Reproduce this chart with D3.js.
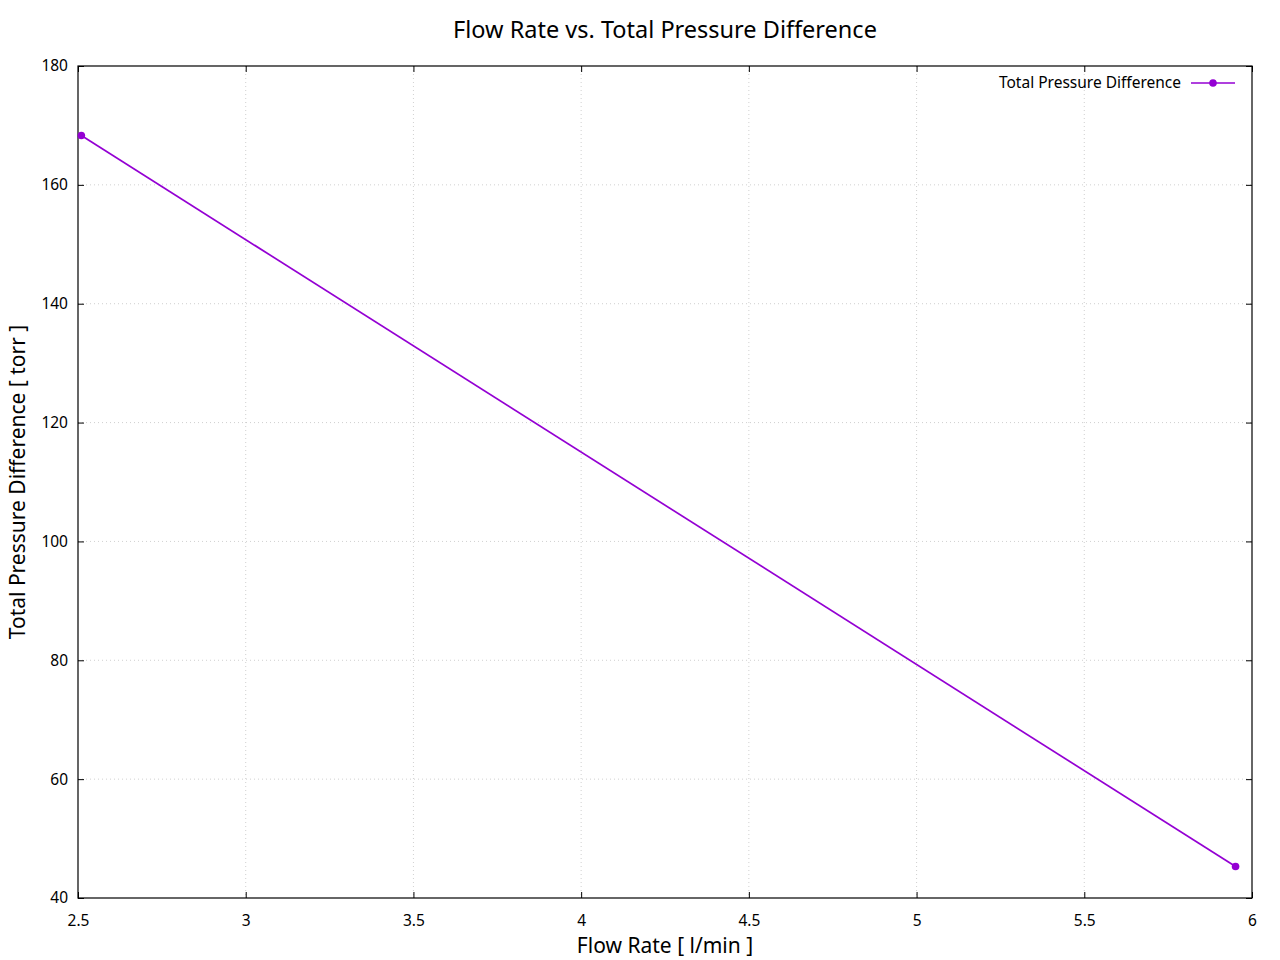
<!DOCTYPE html>
<html><head><meta charset="utf-8">
<script src="https://cdn.jsdelivr.net/npm/d3@7"></script>
<style>body{margin:0;background:#fff}svg{display:block}text{font-family:"Noto Sans",sans-serif;fill:#000}</style>
</head><body><svg id="c" width="1280" height="960"></svg>
<script>
const flowRate = [2.51, 5.951];
const pressureDiff = [168.3, 45.3];
const xTicks = [2.5, 3, 3.5, 4, 4.5, 5, 5.5, 6];
const yTicks = [40, 60, 80, 100, 120, 140, 160, 180];
const seriesName = "Total Pressure Difference";
const color = "#9400d3";

const svg = d3.select("#c");
const L=78, R=1252, T=66, B=898;
const x = d3.scaleLinear().domain([2.5,6]).range([L,R]);
const y = d3.scaleLinear().domain([40,180]).range([B,T]);

// grid
const g = svg.append("g");
g.selectAll(".gx").data(xTicks.slice(1,-1)).enter().append("line")
 .attr("x1",d=>x(d)).attr("x2",d=>x(d)).attr("y1",T).attr("y2",B)
 .attr("stroke","#b0b0b0").attr("stroke-width",0.6).attr("stroke-dasharray","1,3");
g.selectAll(".gy").data(yTicks.slice(1,-1)).enter().append("line")
 .attr("y1",d=>y(d)).attr("y2",d=>y(d)).attr("x1",L).attr("x2",R)
 .attr("stroke","#b0b0b0").attr("stroke-width",0.6).attr("stroke-dasharray","1,3");

// axes with inward ticks
const fmt = d=>String(d);
const tickFont = "15.5px";
svg.append("g").attr("transform",`translate(0,${B})`)
 .call(d3.axisBottom(x).tickValues(xTicks).tickFormat(fmt).tickSizeInner(-6).tickSizeOuter(0).tickPadding(17))
 .call(a=>{a.select(".domain").remove();a.selectAll("text").style("font-size",tickFont).style("font-family","'Noto Sans',sans-serif");});
svg.append("g").attr("transform",`translate(0,${T})`)
 .call(d3.axisTop(x).tickValues(xTicks).tickFormat("").tickSizeInner(-6).tickSizeOuter(0))
 .call(a=>a.select(".domain").remove());
svg.append("g").attr("transform",`translate(${L},0)`)
 .call(d3.axisLeft(y).tickValues(yTicks).tickFormat(fmt).tickSizeInner(-6).tickSizeOuter(0).tickPadding(10))
 .call(a=>{a.select(".domain").remove();a.selectAll("text").style("font-size",tickFont).style("font-family","'Noto Sans',sans-serif");});
svg.append("g").attr("transform",`translate(${R},0)`)
 .call(d3.axisRight(y).tickValues(yTicks).tickFormat("").tickSizeInner(-6).tickSizeOuter(0))
 .call(a=>a.select(".domain").remove());
svg.selectAll(".tick line").attr("stroke","#000");

svg.append("rect").attr("x",L).attr("y",T).attr("width",R-L).attr("height",B-T)
 .attr("fill","none").attr("stroke","#000").attr("stroke-width",1.2);

// series
const data = flowRate.map((v,i)=>[v,pressureDiff[i]]);
svg.append("path").datum(data).attr("fill","none").attr("stroke",color).attr("stroke-width",1.7)
 .attr("d",d3.line().x(d=>x(d[0])).y(d=>y(d[1])));
svg.selectAll(".pt").data(data).enter().append("circle")
 .attr("cx",d=>x(d[0])).attr("cy",d=>y(d[1])).attr("r",3.8).attr("fill",color);

// legend
svg.append("text").attr("x",1181).attr("y",83).attr("text-anchor","end").attr("dy","0.35em")
 .style("font-size","15.5px").text(seriesName);
svg.append("line").attr("x1",1191).attr("x2",1235).attr("y1",83).attr("y2",83).attr("stroke",color).attr("stroke-width",1.7);
svg.append("circle").attr("cx",1213).attr("cy",83).attr("r",3.8).attr("fill",color);

// titles
svg.append("text").attr("x",665).attr("y",30).attr("text-anchor","middle").attr("dy","0.35em")
 .style("font-size","23.5px").text("Flow Rate vs. Total Pressure Difference");
svg.append("text").attr("x",665).attr("y",946).attr("text-anchor","middle").attr("dy","0.35em")
 .style("font-size","21px").text("Flow Rate [ l/min ]");
svg.append("text").attr("transform","translate(18,482) rotate(-90)").attr("text-anchor","middle").attr("dy","0.35em")
 .style("font-size","21px").text("Total Pressure Difference [ torr ]");
</script></body></html>
